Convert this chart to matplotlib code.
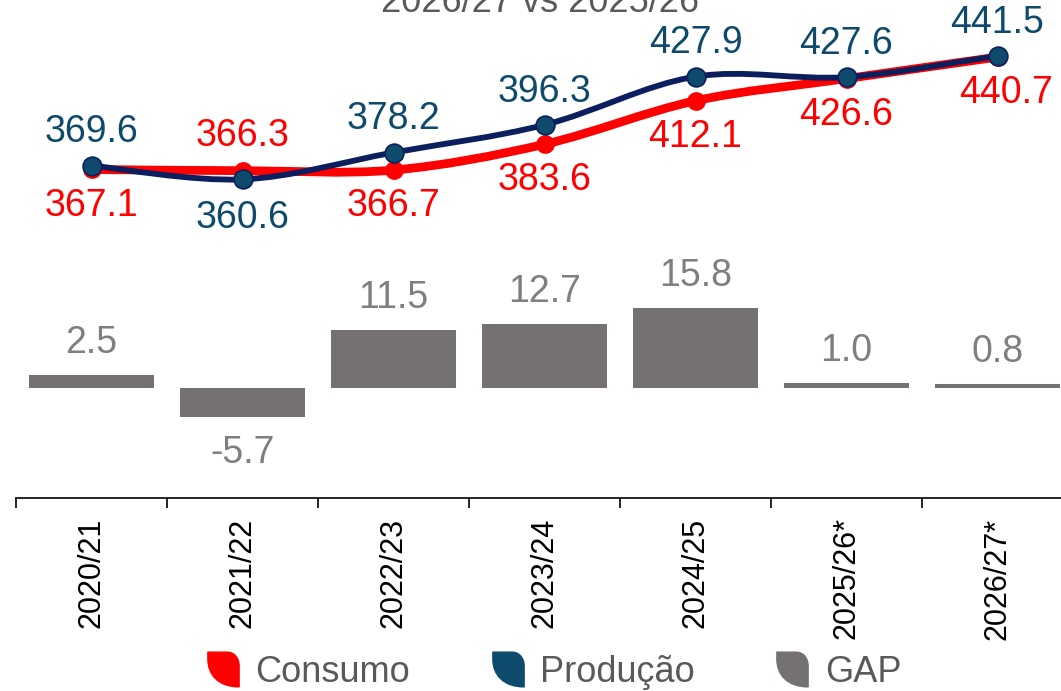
import numpy as np
import matplotlib
matplotlib.use("Agg")
import matplotlib.pyplot as plt
from matplotlib.path import Path
from matplotlib.patches import PathPatch
from matplotlib.lines import Line2D

# --- data ---
safras = ["2020/21", "2021/22", "2022/23", "2023/24", "2024/25", "2025/26*", "2026/27*"]
consumo = [367.1, 366.3, 366.7, 383.6, 412.1, 426.6, 440.7]
producao = [369.6, 360.6, 378.2, 396.3, 427.9, 427.6, 441.5]
gap = [2.5, -5.7, 11.5, 12.7, 15.8, 1.0, 0.8]

consumo_pos = ["below", "above", "below", "below", "below", "below", "below"]
producao_pos = ["above", "below", "above", "above", "above", "above", "above"]

RED = "#FF0000"
NAVY = "#0B1F5E"
TEAL = "#0D4A6B"
GRAY_BAR = "#767171"
GRAY_TXT = "#7F7F7F"
DARK_TXT = "#595959"

plt.rcParams['font.family'] = ['Liberation Sans', 'DejaVu Sans']


def smooth_path(xs, ys):
    """ Catmull-Rom style bezier segments through the points (Excel 'smoothed line'). """
    pts = np.column_stack([xs, ys]).astype(float)
    n = len(pts)
    verts = [pts[0]]
    codes = [Path.MOVETO]
    for i in range(n - 1):
        p0 = pts[i - 1] if i > 0 else pts[i]
        p1 = pts[i]
        p2 = pts[i + 1]
        p3 = pts[i + 2] if i + 2 < n else pts[i + 1]
        c1 = p1 + (p2 - p0) / 6.0
        c2 = p2 - (p3 - p1) / 6.0
        verts += [c1, c2, p2]
        codes += [Path.CURVE4] * 3
    return Path(verts, codes)


# leaf-shaped legend marker
leaf = Path(
    [(-0.9, 1), (0.2, 1), (0.64, 1), (0.9, 0.64), (0.9, 0.2), (0.9, -1),
     (-0.3, -1), (-0.9, -0.3), (-0.9, 0.6), (-0.9, 1), (-0.9, 1)],
    [Path.MOVETO, Path.LINETO, Path.CURVE4, Path.CURVE4, Path.CURVE4, Path.LINETO,
     Path.CURVE4, Path.CURVE4, Path.CURVE4, Path.LINETO, Path.CLOSEPOLY])

fig = plt.figure(figsize=(10.61, 6.91), dpi=100)
W, H = 1061.0, 691.0
ax = fig.add_axes([16 / W, (H - 498) / H, 7 * 151 / W, 498 / H])
x = np.arange(len(safras))

# --- bars (GAP) ---
ax.bar(x, gap, width=0.83, color=GRAY_BAR, zorder=1)
ax.set_ylim(-21.8, 76.8)
ax.set_xlim(-0.5, len(safras) - 0.5)
for xi, g in zip(x, gap):
    off = 23 if g >= 0 else -26
    ax.annotate(f"{g:.1f}", (xi, g), xytext=(0, off), textcoords="offset points",
                ha="center", va="center", fontsize=27, color=GRAY_TXT)

for s in ["top", "right", "left"]:
    ax.spines[s].set_visible(False)
ax.spines["bottom"].set_linewidth(1.2)
ax.set_yticks([])
ax.set_xticks(x)
ax.set_xticklabels(safras, rotation=90, fontsize=22, va="top")
ax.tick_params(axis="x", which="major", length=0, pad=14)
ax.set_xticks(np.arange(-0.5, len(safras) + 0.5, 1), minor=True)
ax.tick_params(axis="x", which="minor", length=7, width=1.2)

# --- lines (Consumo / Producao) ---
ax2 = ax.twinx()
ax2.set_ylim(151.9, 478.1)
ax2.axis("off")
ax2.add_patch(PathPatch(smooth_path(x, consumo), fill=False, edgecolor=RED, lw=6.3,
                        capstyle="round", zorder=2))
ax2.plot(x, consumo, "o", ms=12.5, color=RED, zorder=3)
ax2.add_patch(PathPatch(smooth_path(x, producao), fill=False, edgecolor=NAVY, lw=4.2,
                        capstyle="round", zorder=4))
ax2.plot(x, producao, "o", ms=13.5, markerfacecolor=TEAL, markeredgecolor=NAVY,
         markeredgewidth=1.2, zorder=5)

for i, (xi, v, p) in enumerate(zip(x, consumo, consumo_pos)):
    off = 25 if p == "above" else -26
    dx = 6 if i == len(x) - 1 else 0
    ax2.annotate(f"{v:.1f}", (xi, v), xytext=(dx, off), textcoords="offset points",
                 ha="center", va="center", fontsize=27, color=RED, zorder=6)
for xi, v, p in zip(x, producao, producao_pos):
    off = 24 if p == "above" else -28
    ax2.annotate(f"{v:.1f}", (xi, v), xytext=(0, off), textcoords="offset points",
                 ha="center", va="center", fontsize=27, color=TEAL, zorder=6)

# title cut off at the top of the picture
fig.text(540 / W, 1 - 12 / H, "2026/27 vs 2025/26", ha="center", va="baseline",
         fontsize=26, color=DARK_TXT)

handles = [
    Line2D([], [], marker=leaf, ms=25, color=RED, ls="None"),
    Line2D([], [], marker=leaf, ms=25, color=TEAL, ls="None"),
    Line2D([], [], marker=leaf, ms=25, color=GRAY_BAR, ls="None"),
]
leg = fig.legend(handles, ["Consumo", "Produção", "GAP"], loc="center",
                 bbox_to_anchor=(553 / W, 1 - 672 / H), ncol=3, frameon=False,
                 fontsize=26, handlelength=1.0, handletextpad=0.4, columnspacing=2.2,
                 borderpad=0)
for t in leg.get_texts():
    t.set_color(DARK_TXT)

fig.savefig("out.png", dpi=100)
